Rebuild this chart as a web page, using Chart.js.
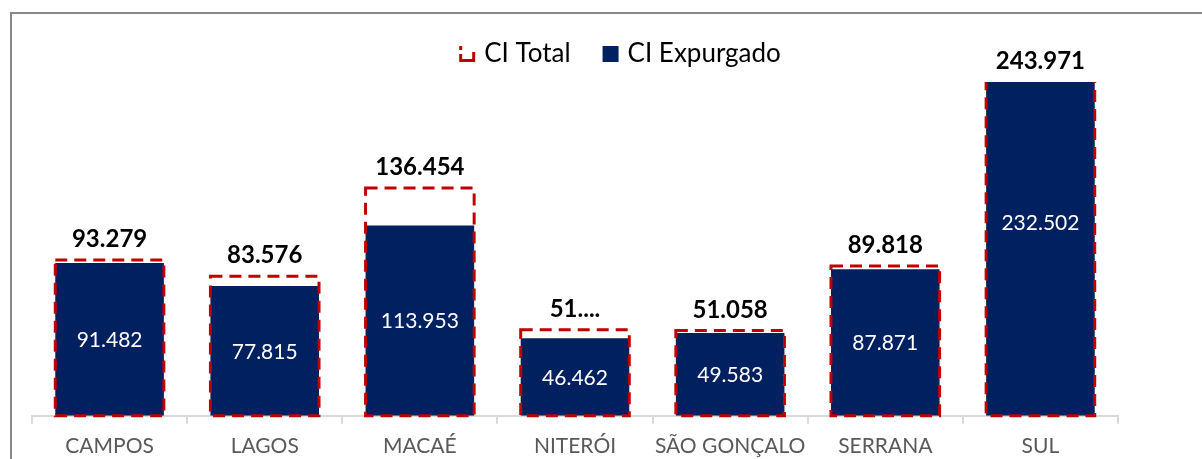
<!DOCTYPE html>
<html>
<head>
<meta charset="utf-8">
<script src="https://cdn.jsdelivr.net/npm/chart.js@4.4.1/dist/chart.umd.min.js"></script>
<style>
  html, body { margin: 0; padding: 0; background: #fff; overflow: hidden; height: 459px; }
  #frame { position: absolute; left: 10px; top: 12px; width: 1300px; height: 600px; border: 2px solid #888; }
  #wrap { position: absolute; left: 0; top: 0; width: 1202px; height: 469px; }
</style>
</head>
<body>
<div id="frame"></div>
<div id="wrap"><canvas id="chart"></canvas></div>
<script>
const regions = ['CAMPOS', 'LAGOS', 'MACAÉ', 'NITERÓI', 'SÃO GONÇALO', 'SERRANA', 'SUL'];
const ciTotal = [93279, 83576, 136454, 51500, 51058, 89818, 243971];
const ciExpurgado = [91482, 77815, 113953, 46462, 49583, 87871, 232502];
// label text as shown in the picture (Niterói is cut off there)
const totalLabels = ['93.279', '83.576', '136.454', '51....', '51.058', '89.818', '243.971'];
const yMax = 200000;

const RED = '#C00000';
const NAVY = '#002060';
const FONT = 'Lato';

function fmt(v) {
    return v.toLocaleString('pt-BR');
}

// dashed outline for CI Total + value labels
const barDecor = {
    id: 'barDecor',
    afterDatasetsDraw(chart) {
        const ctx = chart.ctx;
        const area = chart.chartArea;
        const totMeta = chart.getDatasetMeta(0);
        const expMeta = chart.getDatasetMeta(1);

        ctx.save();
        ctx.beginPath();
        ctx.rect(area.left - 5, area.top, area.right - area.left + 10, area.bottom - area.top + 5);
        ctx.clip();
        ctx.strokeStyle = RED;
        ctx.lineWidth = 3;
        ctx.setLineDash([12, 7]);
        totMeta.data.forEach(bar => {
            const p = bar.getProps(['x', 'y', 'base', 'width'], true);
            ctx.strokeRect(p.x - p.width / 2, p.y, p.width, p.base - p.y);
        });
        ctx.restore();

        ctx.save();
        ctx.textAlign = 'center';
        ctx.fillStyle = '#fff';
        ctx.font = '21px ' + FONT;
        ctx.textBaseline = 'middle';
        expMeta.data.forEach((bar, i) => {
            const p = bar.getProps(['x', 'y', 'base'], true);
            ctx.fillText(fmt(ciExpurgado[i]), p.x, (p.y + p.base) / 2 + 1);
        });
        ctx.fillStyle = '#000';
        ctx.font = 'bold 24px ' + FONT;
        ctx.textBaseline = 'alphabetic';
        totMeta.data.forEach((bar, i) => {
            const p = bar.getProps(['x', 'y'], true);
            ctx.fillText(totalLabels[i], p.x, Math.max(p.y, area.top) - 13);
        });
        ctx.restore();
    },
    afterDraw(chart) {
        // legend
        const ctx = chart.ctx;
        const cx = 620, cy = 54;
        ctx.save();
        ctx.font = '26px ' + FONT;
        const t1 = 'CI Total', t2 = 'CI Expurgado';
        const box = 16, gap = 9, between = 32;
        const w = box + gap + ctx.measureText(t1).width + between + box + gap + ctx.measureText(t2).width;
        let x = cx - w / 2;
        // dashed-box icon: shows as an open bracket
        ctx.strokeStyle = RED;
        ctx.lineWidth = 3;
        ctx.beginPath();
        ctx.moveTo(x + 1.5, cy - box / 2);
        ctx.lineTo(x + 1.5, cy - box / 2 + 4);
        ctx.moveTo(x + 1.5, cy - box / 2 + 8);
        ctx.lineTo(x + 1.5, cy + box / 2 - 1.5);
        ctx.lineTo(x + box - 1.5, cy + box / 2 - 1.5);
        ctx.lineTo(x + box - 1.5, cy - box / 2 + 6);
        ctx.stroke();
        x += box + gap;
        ctx.fillStyle = '#000';
        ctx.textBaseline = 'middle';
        ctx.fillText(t1, x, cy);
        x += ctx.measureText(t1).width + between;
        ctx.fillStyle = NAVY;
        ctx.fillRect(x, cy - box / 2, box, box);
        x += box + gap;
        ctx.fillStyle = '#000';
        ctx.fillText(t2, x, cy);
        ctx.restore();
    }
};

new Chart(document.getElementById('chart'), {
    type: 'bar',
    data: {
        labels: regions,
        datasets: [{
            label: 'CI Total',
            data: ciTotal,
            backgroundColor: 'rgba(0,0,0,0)',
            borderWidth: 0,
            grouped: false,
            order: 0
        }, {
            label: 'CI Expurgado',
            data: ciExpurgado,
            backgroundColor: NAVY,
            borderWidth: 0,
            grouped: false,
            order: 1
        }]
    },
    options: {
        responsive: true,
        maintainAspectRatio: false,
        animation: false,
        categoryPercentage: 1,
        barPercentage: 0.7,
        layout: { padding: { left: 32, right: 84, top: 82, bottom: 0 } },
        plugins: {
            legend: { display: false },
            tooltip: { enabled: false }
        },
        scales: {
            x: {
                grid: { offset: true, drawOnChartArea: false, tickLength: 8, color: '#d9d9d9', lineWidth: 2 },
                border: { display: true, color: '#d9d9d9', width: 2 },
                ticks: { color: '#595959', font: { family: FONT, size: 21 }, padding: 10, maxRotation: 0 }
            },
            y: {
                display: false,
                min: 0,
                max: yMax
            }
        }
    },
    plugins: [barDecor]
});
</script>
</body>
</html>
